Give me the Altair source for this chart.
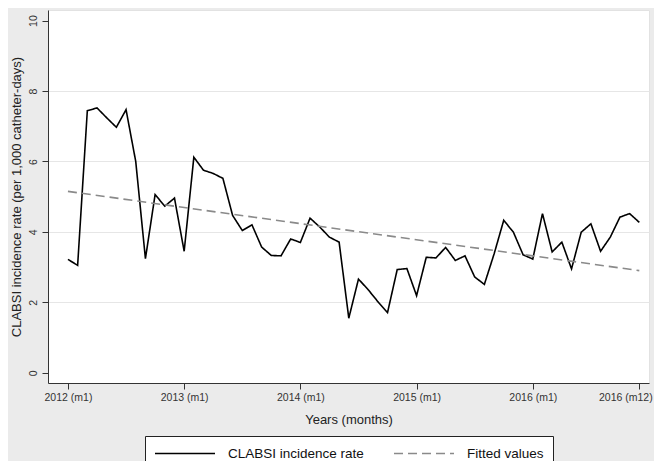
import altair as alt
import pandas as pd

# ---- data ----
month_labels = [f"{y}m{m}" for y in range(2012, 2017) for m in range(1, 13)]
clabsi_rate = [
    3.22, 3.05, 7.44, 7.52, 7.24, 6.97, 7.47, 6.00, 3.24, 5.06, 4.73, 4.96,
    3.45, 6.12, 5.75, 5.66, 5.52, 4.47, 4.04, 4.20, 3.57, 3.33, 3.32, 3.80,
    3.70, 4.39, 4.14, 3.85, 3.71, 1.55, 2.66, 2.36, 2.02, 1.71, 2.93, 2.96,
    2.19, 3.28, 3.26, 3.56, 3.19, 3.32, 2.72, 2.51, 3.37, 4.33, 3.99, 3.35,
    3.23, 4.52, 3.43, 3.71, 2.95, 3.99, 4.23, 3.45, 3.85, 4.42, 4.52, 4.27,
]
fitted_idx = [0, 59]
fitted_vals = [5.15, 2.90]

series_names = ["CLABSI incidence rate", "Fitted values"]
x_tick_pos = [0, 12, 24, 36, 48, 59]
x_tick_labels = ["2012 (m1)", "2013 (m1)", "2014 (m1)", "2015 (m1)", "2016 (m1)", "2016 (m12)"]
y_ticks = [0, 2, 4, 6, 8, 10]

df_line = pd.DataFrame({
    "t": list(range(len(clabsi_rate))),
    "month": month_labels,
    "rate": clabsi_rate,
    "series": series_names[0],
})
df_fit = pd.DataFrame({
    "t": fitted_idx,
    "month": [month_labels[i] for i in fitted_idx],
    "rate": fitted_vals,
    "series": series_names[1],
})
df = pd.concat([df_line, df_fit], ignore_index=True)

labels_js = "[" + ",".join(f"'{s}'" for s in x_tick_labels) + "]"
pos_js = "[" + ",".join(str(v) for v in x_tick_pos) + "]"
label_expr = f"{labels_js}[indexof({pos_js}, datum.value)]"

FONT = "Liberation Sans"

chart = alt.Chart(df).mark_line(strokeWidth=1.6).encode(
    x=alt.X(
        "t:Q",
        scale=alt.Scale(domain=[-2.06, 60.0], nice=False, zero=False),
        axis=alt.Axis(
            values=x_tick_pos,
            labelExpr=label_expr,
            title="Years (months)",
            grid=False,
            labelFlush=False,
            labelOverlap=False,
            labelOffset={"condition": {"test": f"datum.value == {x_tick_pos[-1]}", "value": -14}, "value": 0},
            tickSize=6,
            labelPadding=3,
            titlePadding=11,
        ),
    ),
    y=alt.Y(
        "rate:Q",
        scale=alt.Scale(domain=[-0.29, 10.3], nice=False, zero=False),
        axis=alt.Axis(
            values=y_ticks,
            title="CLABSI incidence rate (per 1,000 catheter-days)",
            labelAngle=270,
            labelAlign="center",
            labelBaseline="bottom",
            labelPadding=4,
            tickSize=6,
            titlePadding=5,
            grid=True,
            gridColor="#e6e6e6",
            gridWidth=1,
            gridOpacity={"condition": {"test": "datum.value == 0 || datum.value == 10", "value": 0}, "value": 1},
        ),
    ),
    color=alt.Color(
        "series:N",
        title=None,
        scale=alt.Scale(domain=series_names, range=["#000000", "#8a8a8a"]),
    ),
    strokeDash=alt.StrokeDash(
        "series:N",
        title=None,
        scale=alt.Scale(domain=series_names, range=[[1, 0], [9, 5]]),
    ),
    order="t:Q",
).properties(
    width=601,
    height=373,
    padding={"left": 40, "top": 2, "right": 5, "bottom": 78},
    autosize=alt.AutoSizeParams(type="none"),
    background="#ebebeb",
).configure(
    font=FONT,
).configure_view(
    fill="white",
    stroke="#e2e2e2",
    strokeWidth=1,
).configure_axis(
    domainColor="#333333",
    domainWidth=1,
    tickColor="#333333",
    tickWidth=1,
    labelFont=FONT,
    labelFontSize=10.5,
    labelColor="#333333",
    titleFont=FONT,
    titleFontSize=13,
    titleFontWeight="normal",
    titleColor="#222222",
).configure_legend(
    orient="none",
    legendX=97,
    legendY=426,
    direction="horizontal",
    strokeColor="#222222",
    fillColor="white",
    padding=9,
    cornerRadius=0,
    symbolType="M-1,0H7",
    symbolSize=225,
    symbolStrokeWidth=1.6,
    labelFont=FONT,
    labelFontSize=13.5,
    labelColor="#111111",
    labelOffset=57,
    columnPadding=26,
)

chart.save("out.html", embed_options={"renderer": "svg", "actions": False})
